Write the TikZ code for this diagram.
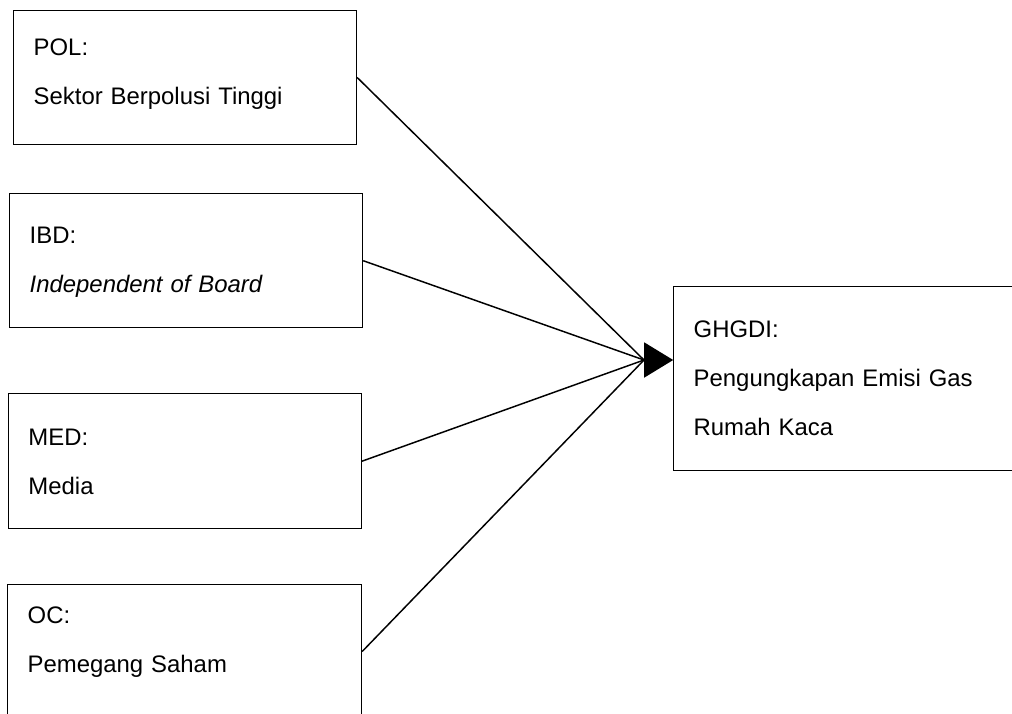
\documentclass[tikz,border=0pt]{standalone}
\usepackage{fontspec}
\setmainfont{Liberation Sans}
\usetikzlibrary{arrows.meta}

\begin{document}
\begin{tikzpicture}[
  varbox/.style={
    draw,
    line width=0.7pt,
    anchor=north west,
    inner xsep=0.5cm,
    inner ysep=0pt,
    align=left,
    font=\fontsize{17pt}{34.9pt}\selectfont
  },
  link/.style={line width=1.05pt}
]
  \useasboundingbox (0,0) rectangle (25.3,-17.825);

  \node[varbox, text width=7.575cm, text height=1.125cm, text depth=2.225cm] (pol) at (0.33,-0.25)
    {POL:\\Sektor Berpolusi Tinggi};
  \node[varbox, text width=7.825cm, text height=1.25cm, text depth=2.1cm] (ibd) at (0.23,-4.83)
    {IBD:\\\textit{Independent of Board}};
  \node[varbox, text width=7.825cm, text height=1.3cm, text depth=2.075cm] (med) at (0.2,-9.83)
    {MED:\\Media};
  \node[varbox, text width=7.85cm, text height=0.975cm, text depth=2.375cm] (oc) at (0.18,-14.6)
    {OC:\\Pemegang Saham};
  \node[varbox, text width=8cm, text height=1.275cm, text depth=3.325cm] (ghg) at (16.83,-7.15)
    {GHGDI:\\Pengungkapan Emisi Gas\\Rumah Kaca};

  \coordinate (joint) at (16.1,-9);
  \draw[link] (pol.east) -- (joint);
  \draw[link] (ibd.east) -- (joint);
  \draw[link] (med.east) -- (joint);
  \draw[link] (oc.east) -- (joint);
  \draw[link, -{Triangle[length=0.725cm, width=0.875cm]}] (joint) -- (ghg.west |- joint);
\end{tikzpicture}
\end{document}
